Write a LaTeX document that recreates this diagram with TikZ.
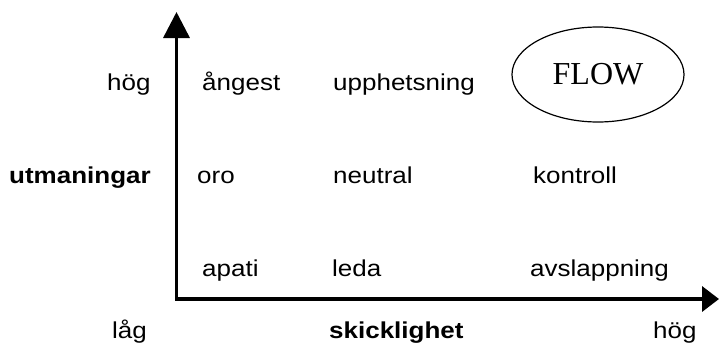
\documentclass[tikz,border=0pt]{standalone}
\usepackage{fontspec}
\setmainfont{Liberation Sans}[FakeStretch=1.13]
\newfontfamily\flowfont{Liberation Serif}
\usetikzlibrary{arrows.meta,shapes.geometric}
\tikzset{
  lbl/.style={anchor=base west, inner sep=0pt, font=\fontsize{23}{27}\selectfont},
  blbl/.style={lbl, font=\fontsize{23}{27}\selectfont\bfseries},
  axisline/.style={line width=3.5pt, line join=miter,
    {Triangle[length=26pt,width=26pt]}-{Triangle[length=17pt,width=25pt]}},
  flowshape/.style={draw, ellipse, line width=1.2pt, minimum width=172pt, minimum height=95pt, inner sep=0pt,
    font=\flowfont\fontsize{32}{36}\selectfont}
}
\begin{document}
\begin{tikzpicture}[x=1pt,y=-1pt]
\useasboundingbox (0,0) rectangle (719,343);
\coordinate (ytip) at (176.5,12);
\coordinate (origin) at (176.5,299);
\coordinate (xtip) at (719,299);
\draw[axisline] (ytip) -- (origin) -- (xtip);
% row 1
\node[lbl] (hoghigh) at (107,90) {hög};
\node[lbl] (angest) at (202,90) {ångest};
\node[lbl] (upphetsning) at (333,90) {upphetsning};
\node[flowshape] (flow) at (598,74.5) {FLOW};
% row 2
\node[blbl] (utmaningar) at (9,183) {utmaningar};
\node[lbl] (oro) at (197,183) {oro};
\node[lbl] (neutral) at (333,183) {neutral};
\node[lbl] (kontroll) at (533,183) {kontroll};
% row 3
\node[lbl] (apati) at (202,276) {apati};
\node[lbl] (leda) at (332,276) {leda};
\node[lbl] (avslappning) at (530,276) {avslappning};
% row 4
\node[lbl] (lag) at (112,338) {låg};
\node[blbl] (skicklighet) at (329,338) {skicklighet};
\node[lbl] (hoglow) at (653,338) {hög};
\end{tikzpicture}
\end{document}
